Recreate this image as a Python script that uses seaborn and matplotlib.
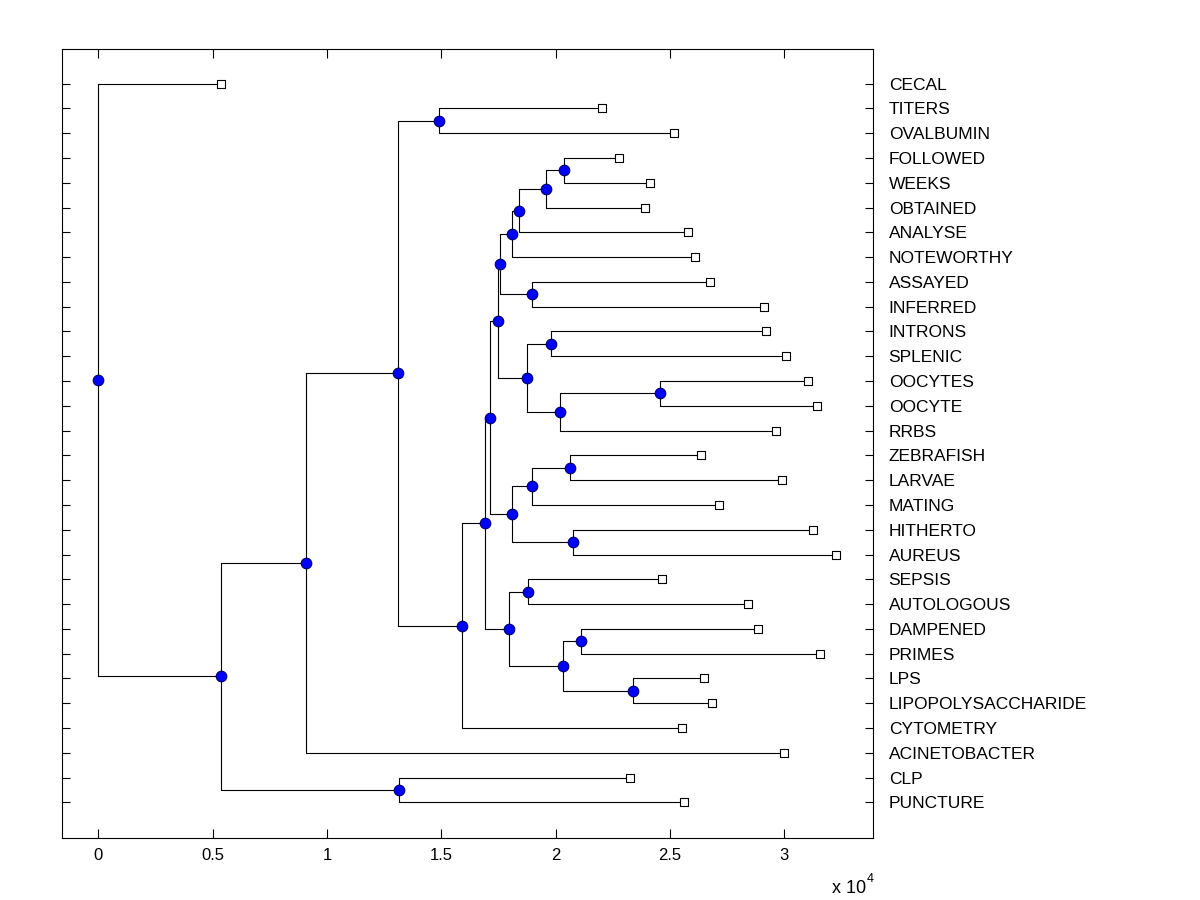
import matplotlib
matplotlib.use('Agg')
import matplotlib.pyplot as plt
import pandas as pd
import seaborn as sns

# leaves, top to bottom, and their distances from the root (x 10^4)
leaf_names = ['CECAL', 'TITERS', 'OVALBUMIN', 'FOLLOWED', 'WEEKS', 'OBTAINED',
              'ANALYSE', 'NOTEWORTHY', 'ASSAYED', 'INFERRED', 'INTRONS', 'SPLENIC',
              'OOCYTES', 'OOCYTE', 'RRBS', 'ZEBRAFISH', 'LARVAE', 'MATING',
              'HITHERTO', 'AUREUS', 'SEPSIS', 'AUTOLOGOUS', 'DAMPENED', 'PRIMES',
              'LPS', 'LIPOPOLYSACCHARIDE', 'CYTOMETRY', 'ACINETOBACTER', 'CLP',
              'PUNCTURE']
leaf_dist = [0.538, 2.205, 2.520, 2.279, 2.415, 2.393,
             2.581, 2.612, 2.677, 2.913, 2.922, 3.010,
             3.106, 3.145, 2.966, 2.638, 2.992, 2.717,
             3.128, 3.228, 2.467, 2.843, 2.887, 3.158,
             2.651, 2.686, 2.555, 3.001, 2.327, 2.563]

# internal nodes: name, first child, second child, distance (x 10^4)
node_names = ['R', 'A', 'B', 'C', 'D', 'E', 'F', 'G', 'H', 'K', 'M', 'O', 'Q', 'S',
              'T', 'P', 'N', 'U', 'V', 'W', 'L', 'X', 'Z', 'Y', 'J', 'AA', 'BB',
              'CC', 'DD']
node_first = ['CECAL', 'B', 'D', 'CLP', 'E', 'TITERS', 'G', 'H', 'K', 'M', 'O', 'Q',
              'S', 'T', 'FOLLOWED', 'ASSAYED', 'U', 'INTRONS', 'W', 'OOCYTES', 'X',
              'Z', 'ZEBRAFISH', 'HITHERTO', 'AA', 'SEPSIS', 'CC', 'DAMPENED', 'LPS']
node_second = ['A', 'C', 'ACINETOBACTER', 'PUNCTURE', 'F', 'OVALBUMIN', 'CYTOMETRY',
               'J', 'L', 'N', 'P', 'NOTEWORTHY', 'ANALYSE', 'OBTAINED', 'WEEKS',
               'INFERRED', 'V', 'SPLENIC', 'RRBS', 'OOCYTE', 'Y', 'MATING', 'LARVAE',
               'AUREUS', 'BB', 'AUTOLOGOUS', 'DD', 'PRIMES', 'LIPOPOLYSACCHARIDE']
node_dist = [0.0, 0.538, 0.910, 1.317, 1.312, 1.492, 1.592, 1.693, 1.715, 1.750,
             1.759, 1.811, 1.842, 1.960, 2.038, 1.899, 1.877, 1.982, 2.021, 2.458,
             1.811, 1.899, 2.065, 2.078, 1.798, 1.881, 2.034, 2.113, 2.340]

# layout: leaves at 1..n, a node sits at the mean of its children
pos_x = {n: d for n, d in zip(leaf_names, leaf_dist)}
pos_y = {n: i + 1 for i, n in enumerate(leaf_names)}
kids = {n: (a, b) for n, a, b in zip(node_names, node_first, node_second)}
pos_x.update({n: d for n, d in zip(node_names, node_dist)})


def node_y(n):
  if n not in pos_y:
    a, b = kids[n]
    pos_y[n] = (node_y(a) + node_y(b)) / 2
  return pos_y[n]


for n in node_names:
  node_y(n)

rows = []
for i, n in enumerate(node_names):
  a, b = kids[n]
  for x, y in [(pos_x[a], pos_y[a]), (pos_x[n], pos_y[a]),
               (pos_x[n], pos_y[b]), (pos_x[b], pos_y[b])]:
    rows.append({'seg': i, 'x': x, 'y': y})
df_seg = pd.DataFrame(rows)

df_leaf = pd.DataFrame({'x': leaf_dist, 'y': [pos_y[n] for n in leaf_names]})
df_node = pd.DataFrame({'x': node_dist, 'y': [pos_y[n] for n in node_names]})

sns.set_theme(style='white')
plt.rcParams['font.family'] = ['Liberation Sans', 'DejaVu Sans']
plt.rcParams['text.color'] = 'black'
plt.rcParams['xtick.color'] = 'black'
plt.rcParams['ytick.color'] = 'black'

fig = plt.figure(figsize=(12, 9), dpi=100)
ax = fig.add_axes([0.0519, 0.0686, 0.6759, 0.8767])

sns.lineplot(data=df_seg, x='x', y='y', units='seg', estimator=None, sort=False,
             color='black', linewidth=0.8, ax=ax)
sns.scatterplot(data=df_leaf, x='x', y='y', marker='s', s=34, color='white',
                edgecolor='black', linewidth=0.8, zorder=3, ax=ax)
sns.scatterplot(data=df_node, x='x', y='y', marker='o', s=58, color='#0000ff',
                edgecolor='#00006a', linewidth=0.8, zorder=4, ax=ax)

ax.set_xlim(-0.1575, 3.390)
ax.set_ylim(31.45, -0.39)
ax.set_xlabel('')
ax.set_ylabel('')

ax.set_xticks([0, 0.5, 1, 1.5, 2, 2.5, 3])
ax.set_xticklabels(['0', '0.5', '1', '1.5', '2', '2.5', '3'])
ax.set_yticks(range(1, len(leaf_names) + 1))
ax.set_yticklabels(leaf_names)
ax.tick_params(axis='x', direction='in', top=True, bottom=True, length=6.5,
               width=0.8, color='black', labelcolor='black', labelsize=12, pad=7)
ax.tick_params(axis='y', direction='in', left=True, right=True, labelleft=False,
               labelright=True, length=6, width=0.8, color='black',
               labelcolor='black', labelsize=12.5, pad=11)
for s in ax.spines.values():
  s.set_color('black')
  s.set_linewidth(0.8)

fig.text(0.7215, 0.0078, 'x 10', ha='right', va='baseline', fontsize=13,
         color='black')
fig.text(0.7225, 0.020, '4', ha='left', va='baseline', fontsize=9,
         color='black')

fig.savefig('out.png', dpi=100)
